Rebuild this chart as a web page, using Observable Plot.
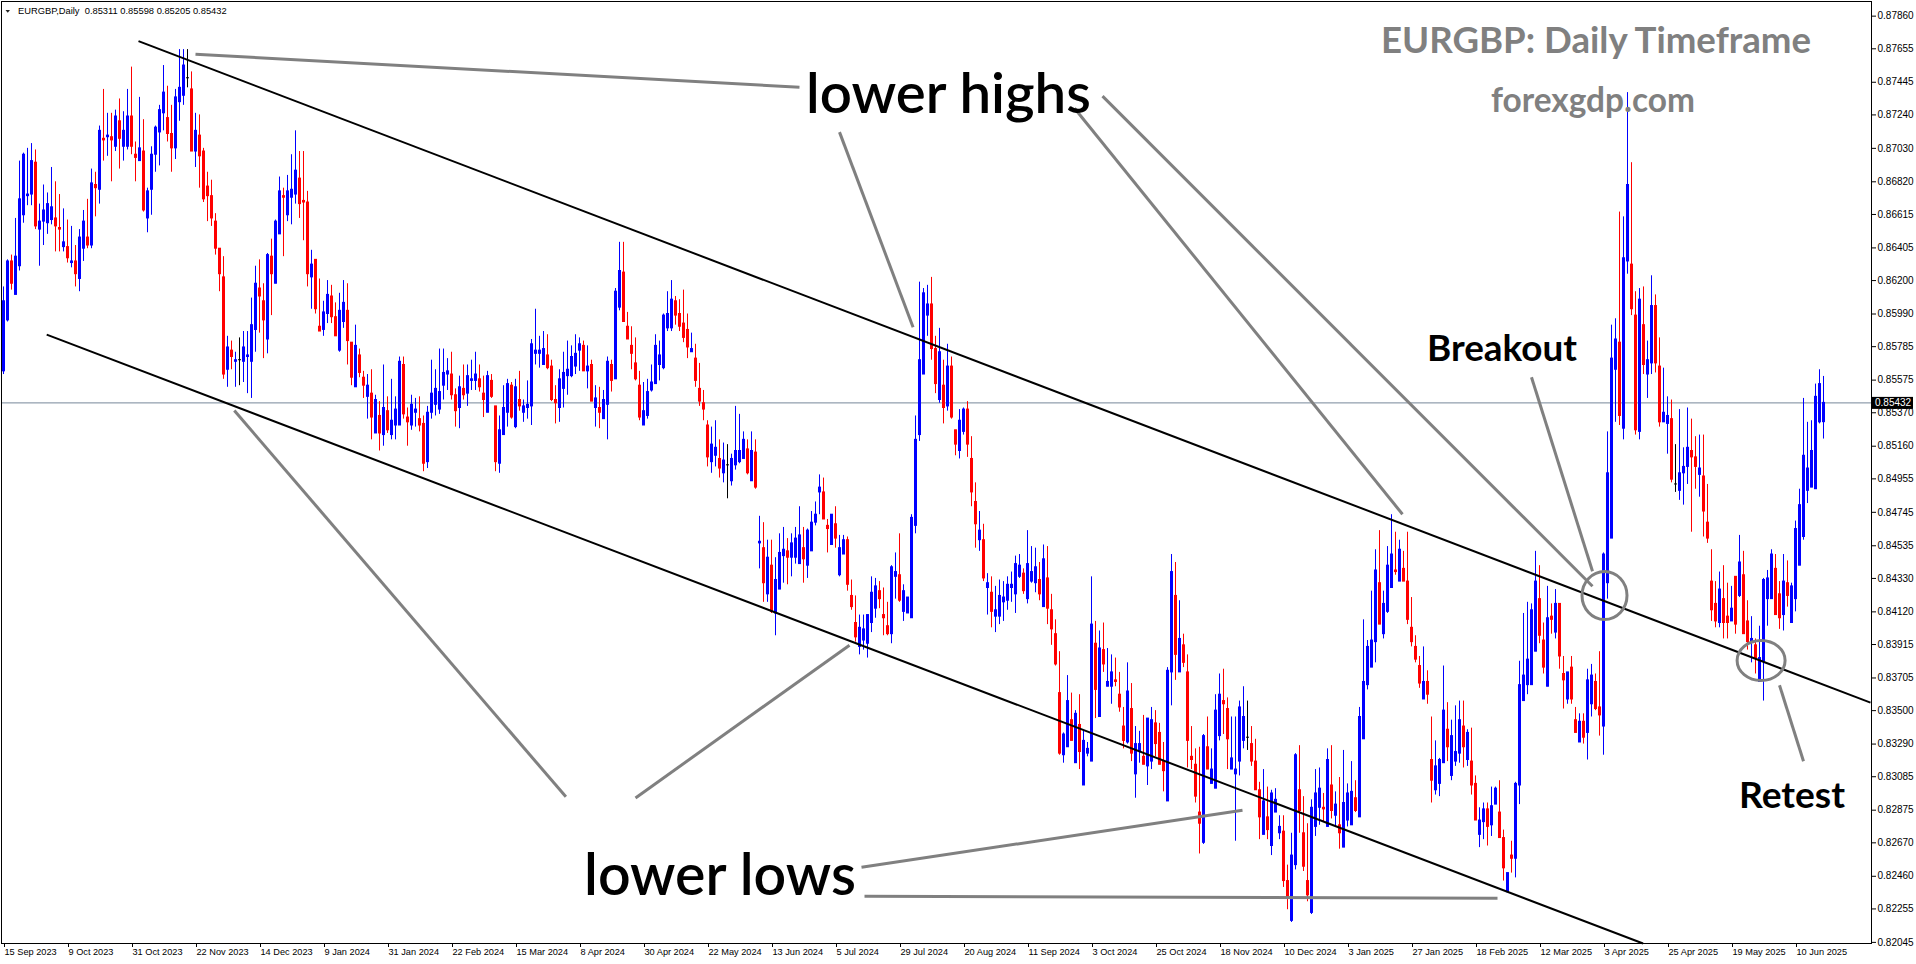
<!DOCTYPE html>
<html>
<head>
<meta charset="utf-8">
<title>EURGBP Daily</title>
<script src="https://cdn.jsdelivr.net/npm/d3@7"></script>
<script src="https://cdn.jsdelivr.net/npm/@observablehq/plot@0.6"></script>
<style>
html, body { margin:0; padding:0; background:#fff; overflow:hidden; }
#chart { width:1916px; height:964px; }
#chart svg { display:block; }
</style>
</head>
<body>
<div id="chart"></div>
<script>
// ---------------- DATA (EURGBP daily) ----------------
const symbol = "EURGBP,Daily";

const openP = [
0.8563,0.8595,0.8632,0.8611,0.8629,0.8661,0.8673,0.8674,0.8694,0.8652,
0.8657,0.8656,0.8658,0.8659,0.8653,0.8641,0.8641,0.8631,0.8632,0.8621,
0.8640,0.8647,0.8642,0.8680,0.8677,0.8709,0.8710,0.8710,0.8704,0.8720,
0.8704,0.8704,0.8723,0.8699,0.8695,0.8701,0.8659,0.8677,0.8699,0.8713,
0.8725,0.8722,0.8712,0.8703,0.8732,0.8736,0.8747,0.8740,0.8701,0.8711,
0.8701,0.8679,0.8673,0.8657,0.8640,0.8622,0.8564,0.8576,0.8569,0.8570,
0.8569,0.8572,0.8569,0.8589,0.8615,0.8607,0.8583,0.8635,0.8618,0.8649,
0.8673,0.8661,0.8672,0.8674,0.8684,0.8670,0.8669,0.8622,0.8633,0.8591,
0.8589,0.8599,0.8610,0.8597,0.8576,0.8594,0.8601,0.8581,0.8553,0.8573,
0.8559,0.8547,0.8549,0.8524,0.8535,0.8523,0.8538,0.8523,0.8529,0.8529,
0.8567,0.8534,0.8529,0.8537,0.8533,0.8530,0.8506,0.8537,0.8542,0.8539,
0.8554,0.8561,0.8561,0.8548,0.8540,0.8552,0.8549,0.8557,0.8557,0.8558,
0.8549,0.8537,0.8557,0.8541,0.8505,0.8523,0.8537,0.8554,0.8528,0.8545,
0.8537,0.8540,0.8541,0.8574,0.8574,0.8567,0.8573,0.8566,0.8545,0.8540,
0.8552,0.8560,0.8560,0.8566,0.8576,0.8579,0.8563,0.8567,0.8540,0.8540,
0.8533,0.8542,0.8567,0.8558,0.8603,0.8625,0.8591,0.8579,0.8568,0.8554,
0.8529,0.8535,0.8551,0.8555,0.8567,0.8565,0.8590,0.8590,0.8607,0.8599,
0.8593,0.8589,0.8575,0.8571,0.8552,0.8543,0.8529,0.8506,0.8510,0.8508,
0.8499,0.8504,0.8494,0.8504,0.8506,0.8508,0.8514,0.8494,0.8512,0.8455,
0.8452,0.8423,0.8441,0.8411,0.8426,0.8447,0.8450,0.8446,0.8446,0.8442,
0.8452,0.8441,0.8450,0.8468,0.8487,0.8487,0.8466,0.8454,0.8467,0.8435,
0.8448,0.8457,0.8422,0.8405,0.8390,0.8394,0.8392,0.8405,0.8414,0.8425,
0.8410,0.8403,0.8398,0.8434,0.8435,0.8412,0.8411,0.8408,0.8466,0.8523,
0.8561,0.8598,0.8605,0.8577,0.8545,0.8554,0.8541,0.8566,0.8526,0.8513,
0.8525,0.8539,0.8508,0.8481,0.8457,0.8457,0.8427,0.8424,0.8409,0.8409,
0.8418,0.8419,0.8427,0.8423,0.8434,0.8436,0.8420,0.8431,0.8430,0.8432,
0.8415,0.8433,0.8413,0.8398,0.8361,0.8322,0.8327,0.8344,0.8317,0.8341,
0.8303,0.8323,0.8318,0.8392,0.8346,0.8388,0.8365,0.8365,0.8369,0.8360,
0.8340,0.8330,0.8351,0.8310,0.8324,0.8321,0.8315,0.8318,0.8342,0.8336,
0.8318,0.8293,0.8374,0.8422,0.8374,0.8391,0.8374,0.8321,0.8316,0.8286,
0.8267,0.8327,0.8304,0.8301,0.8334,0.8356,0.8351,0.8313,0.8310,0.8318,
0.8331,0.8333,0.8329,0.8318,0.8300,0.8272,0.8283,0.8265,0.8286,0.8273,
0.8274,0.8243,0.8218,0.8253,0.8300,0.8273,0.8243,0.8223,0.8277,0.8289,
0.8289,0.8277,0.8303,0.8284,0.8278,0.8264,0.8281,0.8278,0.8295,0.8283,
0.8332,0.8366,0.8377,0.8393,0.8430,0.8398,0.8412,0.8427,0.8438,0.8431,
0.8439,0.8431,0.8402,0.8390,0.8378,0.8357,0.8368,0.8319,0.8300,0.8304,
0.8317,0.8338,0.8309,0.8318,0.8323,0.8340,0.8319,0.8318,0.8304,0.8272,
0.8280,0.8288,0.8278,0.8291,0.8286,0.8270,0.8236,0.8259,0.8257,0.8303,
0.8356,0.8366,0.8366,0.8387,0.8420,0.8394,0.8365,0.8409,0.8399,0.8417,
0.8373,0.8357,0.8377,0.8344,0.8330,0.8343,0.8336,0.8354,0.8368,0.8352,
0.8340,0.8430,0.8458,0.8564,0.8581,0.8527,0.8632,0.8630,0.8598,0.8525,
0.8592,0.8561,0.8568,0.8604,0.8566,0.8531,0.8530,0.8533,0.8492,0.8488,
0.8499,0.8503,0.8513,0.8509,0.8498,0.8497,0.8468,0.8431,0.8417,0.8405,
0.8420,0.8409,0.8406,0.8434,0.8422,0.8435,0.8406,0.8393,0.8391,0.8368,
0.8381,0.8420,0.8420,0.8439,0.8423,0.8410,0.8430,0.8405,0.8420,0.8441,
0.8459,0.8488,0.8490,0.8489,0.8531,0.85311
];

const highP = [
0.8616,0.8633,0.8636,0.8659,0.8695,0.8700,0.8703,0.8706,0.8702,0.8668,
0.8680,0.8675,0.8691,0.8682,0.8674,0.8665,0.8658,0.8654,0.8642,0.8652,
0.8664,0.8671,0.8690,0.8688,0.8717,0.8740,0.8725,0.8725,0.8727,0.8734,
0.8726,0.8740,0.8754,0.8707,0.8735,0.8721,0.8678,0.8704,0.8717,0.8730,
0.8755,0.8742,0.8730,0.8740,0.8765,0.8765,0.8765,0.8751,0.8725,0.8724,
0.8703,0.8688,0.8683,0.8662,0.8640,0.8635,0.8585,0.8582,0.8575,0.8584,
0.8588,0.8588,0.8609,0.8629,0.8633,0.8618,0.8637,0.8646,0.8658,0.8685,
0.8678,0.8686,0.8699,0.8714,0.8701,0.8701,0.8676,0.8639,0.8633,0.8621,
0.8607,0.8620,0.8617,0.8606,0.8612,0.8620,0.8618,0.8581,0.8592,0.8577,
0.8563,0.8561,0.8564,0.8548,0.8544,0.8567,0.8547,0.8558,0.8547,0.8572,
0.8572,0.8540,0.8548,0.8546,0.8547,0.8535,0.8541,0.8570,0.8564,0.8577,
0.8577,0.8571,0.8575,0.8552,0.8560,0.8567,0.8567,0.8570,0.8575,0.8567,
0.8560,0.8563,0.8561,0.8541,0.8535,0.8554,0.8558,0.8556,0.8558,0.8563,
0.8545,0.8557,0.8583,0.8602,0.8585,0.8588,0.8586,0.8570,0.8554,0.8564,
0.8575,0.8582,0.8579,0.8586,0.8584,0.8582,0.8579,0.8570,0.8554,0.8553,
0.8551,0.8572,0.8570,0.8615,0.8644,0.8644,0.8600,0.8591,0.8584,0.8563,
0.8556,0.8558,0.8567,0.8586,0.8582,0.8599,0.8613,0.8620,0.8610,0.8608,
0.8614,0.8599,0.8587,0.8580,0.8568,0.8551,0.8532,0.8528,0.8532,0.8520,
0.8518,0.8517,0.8511,0.8541,0.8536,0.8525,0.8520,0.8525,0.8520,0.8472,
0.8468,0.8457,0.8457,0.8446,0.8461,0.8465,0.8458,0.8461,0.8465,0.8478,
0.8465,0.8464,0.8475,0.8481,0.8498,0.8496,0.8470,0.8473,0.8478,0.8460,
0.8460,0.8459,0.8432,0.8422,0.8410,0.8410,0.8410,0.8434,0.8433,0.8431,
0.8427,0.8418,0.8441,0.8449,0.8461,0.8429,0.8421,0.8473,0.8535,0.8619,
0.8615,0.8617,0.8622,0.8585,0.8590,0.8570,0.8580,0.8572,0.8526,0.8539,
0.8540,0.8544,0.8522,0.8493,0.8475,0.8467,0.8436,0.8434,0.8428,0.8432,
0.8431,0.8434,0.8437,0.8447,0.8448,0.8439,0.8463,0.8453,0.8452,0.8443,
0.8454,0.8453,0.8423,0.8407,0.8387,0.8336,0.8372,0.8361,0.8350,0.8360,
0.8337,0.8330,0.8434,0.8406,0.8400,0.8405,0.8389,0.8385,0.8383,0.8374,
0.8352,0.8380,0.8367,0.8340,0.8337,0.8347,0.8345,0.8352,0.8350,0.8342,
0.8330,0.8377,0.8448,0.8443,0.8419,0.8398,0.8385,0.8340,0.8326,0.8327,
0.8335,0.8346,0.8326,0.8360,0.8373,0.8376,0.8358,0.8346,0.8346,0.8356,
0.8365,0.8356,0.8340,0.8332,0.8305,0.8313,0.8302,0.8300,0.8301,0.8284,
0.8284,0.8253,0.8273,0.8323,0.8328,0.8296,0.8279,0.8294,0.8313,0.8314,
0.8298,0.8326,0.8328,0.8299,0.8308,0.8325,0.8304,0.8318,0.8306,0.8352,
0.8407,0.8394,0.8425,0.8451,0.8463,0.8425,0.8453,0.8473,0.8462,0.8457,
0.8450,0.8462,0.8421,0.8397,0.8384,0.8390,0.8375,0.8346,0.8331,0.8320,
0.8378,0.8355,0.8344,0.8353,0.8356,0.8356,0.8338,0.8339,0.8309,0.8289,
0.8292,0.8292,0.8302,0.8302,0.8306,0.8275,0.8248,0.8268,0.8305,0.8381,
0.8411,0.8418,0.8417,0.8450,0.8441,0.8405,0.8428,0.8417,0.8426,0.8417,
0.8384,0.8374,0.8384,0.8352,0.8348,0.8348,0.8376,0.8379,0.8373,0.8387,
0.8449,0.8525,0.8592,0.8596,0.8663,0.8660,0.8738,0.8694,0.8613,0.8615,
0.8616,0.8582,0.8623,0.8611,0.8584,0.8565,0.8547,0.8545,0.8517,0.8539,
0.8515,0.8540,0.8533,0.8522,0.8523,0.8523,0.8492,0.8451,0.8431,0.8437,
0.8441,0.8430,0.8428,0.8434,0.8460,0.8450,0.8419,0.8409,0.8395,0.8403,
0.8433,0.8438,0.8451,0.8448,0.8431,0.8448,0.8444,0.8430,0.8469,0.8489,
0.8546,0.8531,0.8532,0.8555,0.8564,0.85598
];

const lowP = [
0.8561,0.8594,0.8614,0.8611,0.8626,0.8656,0.8667,0.8667,0.8652,0.8629,
0.8642,0.8649,0.8655,0.8638,0.8638,0.8638,0.8631,0.8628,0.8616,0.8613,
0.8632,0.8640,0.8640,0.8660,0.8668,0.8695,0.8698,0.8682,0.8701,0.8690,
0.8695,0.8702,0.8699,0.8682,0.8695,0.8663,0.8650,0.8661,0.8688,0.8692,
0.8714,0.8707,0.8688,0.8696,0.8720,0.8730,0.8741,0.8701,0.8691,0.8678,
0.8669,0.8657,0.8654,0.8636,0.8613,0.8558,0.8553,0.8564,0.8553,0.8554,
0.8556,0.8549,0.8546,0.8575,0.8587,0.8571,0.8574,0.8598,0.8618,0.8649,
0.8635,0.8657,0.8655,0.8668,0.8659,0.8645,0.8616,0.8602,0.8599,0.8588,
0.8585,0.8593,0.8593,0.8585,0.8575,0.8590,0.8567,0.8554,0.8553,0.8559,
0.8546,0.8533,0.8520,0.8524,0.8513,0.8516,0.8524,0.8520,0.8520,0.8529,
0.8533,0.8516,0.8526,0.8528,0.8525,0.8500,0.8502,0.8533,0.8535,0.8536,
0.8545,0.8551,0.8545,0.8528,0.8527,0.8545,0.8541,0.8551,0.8551,0.8550,
0.8534,0.8537,0.8546,0.8500,0.8499,0.8523,0.8528,0.8533,0.8527,0.8538,
0.8531,0.8533,0.8529,0.8567,0.8565,0.8567,0.8564,0.8544,0.8530,0.8531,
0.8540,0.8548,0.8559,0.8561,0.8563,0.8563,0.8552,0.8544,0.8528,0.8527,
0.8533,0.8520,0.8550,0.8558,0.8601,0.8594,0.8583,0.8564,0.8557,0.8532,
0.8529,0.8533,0.8550,0.8555,0.8557,0.8564,0.8588,0.8588,0.8592,0.8588,
0.8581,0.8571,0.8575,0.8553,0.8541,0.8532,0.8503,0.8499,0.8503,0.8496,
0.8493,0.8483,0.8491,0.8501,0.8505,0.8508,0.8498,0.8494,0.8489,0.8439,
0.8418,0.8418,0.8411,0.8397,0.8426,0.8430,0.8429,0.8434,0.8442,0.8442,
0.8430,0.8433,0.8450,0.8466,0.8473,0.8470,0.8449,0.8454,0.8452,0.8434,
0.8448,0.8425,0.8413,0.8393,0.8385,0.8388,0.8383,0.8399,0.8408,0.8414,
0.8397,0.8397,0.8392,0.8420,0.8418,0.8406,0.8411,0.8408,0.8461,0.8519,
0.8561,0.8585,0.8570,0.8549,0.8543,0.8530,0.8538,0.8533,0.8510,0.8508,
0.8523,0.8509,0.8478,0.8452,0.8450,0.8431,0.8410,0.8402,0.8399,0.8404,
0.8406,0.8413,0.8418,0.8411,0.8433,0.8423,0.8417,0.8430,0.8424,0.8419,
0.8415,0.8404,0.8391,0.8378,0.8322,0.8317,0.8327,0.8331,0.8317,0.8313,
0.8303,0.8321,0.8318,0.8345,0.8346,0.8374,0.8365,0.8354,0.8365,0.8349,
0.8326,0.8329,0.8318,0.8295,0.8317,0.8316,0.8303,0.8313,0.8321,0.8316,
0.8299,0.8293,0.8353,0.8369,0.8374,0.8377,0.8314,0.8313,0.8292,0.8260,
0.8266,0.8313,0.8304,0.8301,0.8331,0.8335,0.8313,0.8313,0.8268,0.8309,
0.8326,0.8325,0.8315,0.8300,0.8269,0.8272,0.8269,0.8259,0.8286,0.8269,
0.8239,0.8225,0.8217,0.8250,0.8273,0.8249,0.8230,0.8222,0.8271,0.8278,
0.8280,0.8277,0.8282,0.8277,0.8263,0.8264,0.8277,0.8278,0.8286,0.8283,
0.8332,0.8363,0.8377,0.8380,0.8404,0.8395,0.8411,0.8427,0.8435,0.8431,
0.8431,0.8404,0.8390,0.8380,0.8364,0.8357,0.8354,0.8292,0.8297,0.8296,
0.8317,0.8318,0.8306,0.8315,0.8317,0.8314,0.8315,0.8297,0.8281,0.8264,
0.8269,0.8265,0.8271,0.8291,0.8270,0.8243,0.8236,0.8248,0.8245,0.8291,
0.8356,0.8360,0.8366,0.8387,0.8392,0.8373,0.8365,0.8398,0.8395,0.8376,
0.8351,0.8354,0.8354,0.8336,0.8330,0.8329,0.8319,0.8346,0.8350,0.8334,
0.8322,0.8420,0.8458,0.8531,0.8529,0.8520,0.8624,0.8598,0.8523,0.8520,
0.8561,0.8546,0.8561,0.8562,0.8528,0.8531,0.8511,0.8493,0.8487,0.8482,
0.8479,0.8492,0.8462,0.8489,0.8484,0.8459,0.8455,0.8406,0.8402,0.8402,
0.8395,0.8395,0.8406,0.8398,0.8421,0.8398,0.8388,0.8380,0.8373,0.8368,
0.8356,0.8403,0.8420,0.8410,0.8401,0.8400,0.8415,0.8405,0.8412,0.8441,
0.8457,0.8480,0.8490,0.8489,0.8530,0.85205
];

const closeP = [
0.8607,0.8632,0.8618,0.8635,0.8671,0.8699,0.8674,0.8695,0.8654,0.8657,
0.8664,0.8668,0.8666,0.8654,0.8652,0.8644,0.8634,0.8632,0.8624,0.8647,
0.8657,0.8642,0.8681,0.8678,0.8714,0.8708,0.8711,0.8708,0.8723,0.8709,
0.8714,0.8723,0.8704,0.8697,0.8703,0.8664,0.8676,0.8699,0.8716,0.8727,
0.8738,0.8712,0.8703,0.8735,0.8741,0.8755,0.8747,0.8701,0.8714,0.8698,
0.8671,0.8673,0.8659,0.8640,0.8624,0.8561,0.8578,0.8572,0.8570,0.8570,
0.8578,0.8573,0.8592,0.8618,0.8610,0.8595,0.8636,0.8624,0.8657,0.8676,
0.8672,0.8676,0.8677,0.8689,0.8668,0.8669,0.8624,0.8630,0.8602,0.8588,
0.8600,0.8611,0.8597,0.8585,0.8601,0.8606,0.8582,0.8559,0.8579,0.8562,
0.8554,0.8554,0.8534,0.8545,0.8524,0.8540,0.8526,0.8532,0.8539,0.8569,
0.8536,0.8531,0.8542,0.8539,0.8529,0.8505,0.8537,0.8549,0.8552,0.8550,
0.8562,0.8563,0.8548,0.8538,0.8553,0.8548,0.8560,0.8558,0.8561,0.8553,
0.8545,0.8560,0.8547,0.8506,0.8526,0.8540,0.8555,0.8534,0.8553,0.8541,
0.8541,0.8542,0.8580,0.8576,0.8576,0.8577,0.8565,0.8545,0.8543,0.8558,
0.8562,0.8564,0.8572,0.8574,0.8580,0.8563,0.8566,0.8544,0.8546,0.8537,
0.8545,0.8569,0.8557,0.8613,0.8626,0.8594,0.8583,0.8574,0.8558,0.8534,
0.8538,0.8550,0.8556,0.8579,0.8573,0.8598,0.8599,0.8608,0.8598,0.8591,
0.8584,0.8578,0.8577,0.8557,0.8544,0.8539,0.8509,0.8517,0.8515,0.8502,
0.8507,0.8504,0.8508,0.8513,0.8513,0.8520,0.8499,0.8513,0.8490,0.8456,
0.8430,0.8446,0.8412,0.8432,0.8449,0.8451,0.8446,0.8455,0.8458,0.8460,
0.8445,0.8463,0.8468,0.8473,0.8490,0.8470,0.8464,0.8473,0.8458,0.8452,
0.8457,0.8429,0.8415,0.8396,0.8402,0.8401,0.8410,0.8424,0.8428,0.8420,
0.8408,0.8398,0.8440,0.8437,0.8419,0.8425,0.8421,0.8471,0.8520,0.8570,
0.8612,0.8605,0.8577,0.8555,0.8575,0.8540,0.8566,0.8534,0.8517,0.8532,
0.8539,0.8517,0.8487,0.8467,0.8463,0.8433,0.8430,0.8412,0.8413,0.8422,
0.8421,0.8429,0.8429,0.8442,0.8441,0.8425,0.8442,0.8437,0.8440,0.8423,
0.8445,0.8414,0.8401,0.8379,0.8323,0.8335,0.8356,0.8331,0.8348,0.8324,
0.8331,0.8326,0.8404,0.8363,0.8389,0.8379,0.8368,0.8374,0.8368,0.8352,
0.8331,0.8362,0.8323,0.8329,0.8329,0.8316,0.8345,0.8344,0.8329,0.8316,
0.8312,0.8375,0.8437,0.8385,0.8395,0.8380,0.8331,0.8319,0.8296,0.8279,
0.8334,0.8313,0.8313,0.8350,0.8360,0.8354,0.8332,0.8320,0.8313,0.8352,
0.8346,0.8333,0.8318,0.8300,0.8283,0.8293,0.8275,0.8298,0.8294,0.8277,
0.8243,0.8232,0.8259,0.8322,0.8287,0.8252,0.8234,0.8289,0.8298,0.8301,
0.8288,0.8319,0.8287,0.8291,0.8273,0.8292,0.8298,0.8299,0.8287,0.8346,
0.8368,0.8390,0.8394,0.8438,0.8404,0.8417,0.8441,0.8448,0.8437,0.8451,
0.8431,0.8407,0.8393,0.8382,0.8367,0.8368,0.8360,0.8306,0.8315,0.8319,
0.8350,0.8327,0.8334,0.8324,0.8344,0.8327,0.8336,0.8303,0.8281,0.8281,
0.8288,0.8277,0.8290,0.8301,0.8270,0.8251,0.8248,0.8257,0.8304,0.8366,
0.8372,0.8382,0.8413,0.8431,0.8397,0.8377,0.8408,0.8407,0.8417,0.8384,
0.8369,0.8374,0.8357,0.8336,0.8343,0.8333,0.8369,0.8372,0.8351,0.8347,
0.8448,0.8499,0.8571,0.8583,0.8535,0.8634,0.8680,0.8602,0.8526,0.8608,
0.8567,0.8570,0.8604,0.8568,0.8531,0.8537,0.8535,0.8495,0.8492,0.8499,
0.8503,0.8515,0.8509,0.8503,0.8502,0.8475,0.8458,0.8413,0.8406,0.8426,
0.8405,0.8405,0.8414,0.8404,0.8443,0.8398,0.8393,0.8395,0.8383,0.8383,
0.8432,0.8433,0.8448,0.8410,0.8408,0.8431,0.8422,0.8428,0.8464,0.8479,
0.8510,0.8502,0.8513,0.8547,0.8555,0.85432
];

// right price axis tick labels
const priceTicks = [0.87860,0.87655,0.87445,0.87240,0.87030,0.86820,0.86615,0.86405,0.86200,0.85990,
  0.85785,0.85575,0.85370,0.85160,0.84955,0.84745,0.84535,0.84330,0.84120,0.83915,
  0.83705,0.83500,0.83290,0.83085,0.82875,0.82670,0.82460,0.82255,0.82045];

// bottom date labels (one every 16 daily bars, starting at bar 0)
const dateLabels = ["15 Sep 2023","9 Oct 2023","31 Oct 2023","22 Nov 2023","14 Dec 2023","9 Jan 2024",
  "31 Jan 2024","22 Feb 2024","15 Mar 2024","8 Apr 2024","30 Apr 2024","22 May 2024","13 Jun 2024",
  "5 Jul 2024","29 Jul 2024","20 Aug 2024","11 Sep 2024","3 Oct 2024","25 Oct 2024","18 Nov 2024",
  "10 Dec 2024","3 Jan 2025","27 Jan 2025","18 Feb 2025","12 Mar 2025","3 Apr 2025","25 Apr 2025",
  "19 May 2025","10 Jun 2025"];
const dateLabelBars = dateLabels.map((_, k) => k * 16);

// channel trend lines (bar index, price)
const channelLines = [
  {x1: 33.75, y1: 0.87703, x2: 466.75, y2: 0.83550},
  {x1: 10.8,  y1: 0.85861, x2: 409.9,  y2: 0.82038}
];
// grey pointer lines (bar index, price)
const pointerLines = [
  {x1: 48.0,   y1: 0.87621, x2: 199.0,  y2: 0.87414},
  {x1: 209.0,  y1: 0.87132, x2: 227.4,  y2: 0.85907},
  {x1: 267.75, y1: 0.87282, x2: 349.75, y2: 0.84733},
  {x1: 274.75, y1: 0.87358, x2: 397.25, y2: 0.84281},
  {x1: 382.0,  y1: 0.85593, x2: 397.25, y2: 0.84375},
  {x1: 444.0,  y1: 0.83659, x2: 450.0,  y2: 0.83182},
  {x1: 140.6,  y1: 0.82959, x2: 57.7,   y2: 0.85384},
  {x1: 158.0,  y1: 0.82952, x2: 211.5,  y2: 0.83911},
  {x1: 214.5,  y1: 0.82517, x2: 309.75, y2: 0.82874},
  {x1: 215.25, y1: 0.82334, x2: 373.5,  y2: 0.82322}
];
// grey rings: breakout and retest (bar index, price)
const rings = [
  {name: "breakout", bar: 400.25, price: 0.84223},
  {name: "retest",   bar: 439.4,  price: 0.83815}
];

// ---------------- CHART ----------------
const W = 1916, H = 964;
const bars = openP.map((o, i) => ({i, o, h: highP[i], l: lowP[i], c: closeP[i]}));
const last = bars[bars.length - 1];
const BULL = "#0000ff", BEAR = "#ff0000", DOJI = "#000000";
const candleColor = d => d.c > d.o ? BULL : d.c < d.o ? BEAR : DOJI;
const fmt5 = d => d.toFixed(5);
const labelByBar = new Map(dateLabelBars.map((b, k) => [b, dateLabels[k]]));

const marks = [
  Plot.ruleY([last.c], {stroke: "#778899", strokeWidth: 1}),
  Plot.ruleX(bars, {x: "i", y1: "h", y2: "l", stroke: candleColor, strokeWidth: 1}),
  Plot.ruleX(bars, {x: "i", y1: d => Math.max(d.o, d.c), y2: d => Math.min(d.o, d.c),
    stroke: candleColor, strokeWidth: 3, insetTop: -0.5, insetBottom: -0.5}),
  Plot.link(channelLines, {x1: "x1", y1: "y1", x2: "x2", y2: "y2", stroke: "#000", strokeWidth: 2}),
  Plot.link(pointerLines, {x1: "x1", y1: "y1", x2: "x2", y2: "y2", stroke: "#808080", strokeWidth: 3}),
  Plot.frame({stroke: "#000"})
];
const hasAxisMarks = typeof Plot.axisX === "function";
if (hasAxisMarks) {
  marks.push(
    Plot.axisY(priceTicks, {anchor: "right", tickSize: 4, tickPadding: 2, tickFormat: fmt5, fontSize: 10}),
    Plot.axisX(dateLabelBars, {anchor: "bottom", tickSize: 4, tickPadding: 1, textAnchor: "start", dx: 1,
      tickFormat: d => labelByBar.get(d), fontSize: 9.2})
  );
}

const chart = Plot.plot({
  width: W, height: H,
  marginLeft: 1, marginRight: 45, marginTop: 1, marginBottom: 21,
  style: {background: "#ffffff", color: "#000", fontFamily: "'Liberation Sans', Arial, sans-serif", fontSize: "10px"},
  color: {type: "identity"},
  x: hasAxisMarks ? {type: "linear", domain: [-0.5, 467]} :
     {type: "linear", domain: [-0.5, 467], ticks: dateLabelBars, tickFormat: d => labelByBar.get(d), tickSize: 4, label: null},
  y: hasAxisMarks ? {type: "linear", domain: [0.82038, 0.87952]} :
     {type: "linear", domain: [0.82038, 0.87952], axis: "right", ticks: priceTicks, tickFormat: fmt5, tickSize: 4, label: null},
  marks
});
document.getElementById("chart").appendChild(chart);

const svg = d3.select(chart);
const xs = chart.scale("x"), ys = chart.scale("y");

// rings
const ringSize = {breakout: [22.5, 24], retest: [24, 20]};
svg.append("g").selectAll("ellipse").data(rings).join("ellipse")
  .attr("cx", d => xs.apply(d.bar) + 0.5).attr("cy", d => ys.apply(d.price) + 0.5)
  .attr("rx", d => ringSize[d.name][0]).attr("ry", d => ringSize[d.name][1])
  .attr("fill", "none").attr("stroke", "#808080").attr("stroke-width", 3);

// current price tag on the axis
const yTag = ys.apply(last.c) + 0.5;
svg.append("rect").attr("x", 1871).attr("y", yTag - 6).attr("width", 42).attr("height", 12).attr("fill", "#000");
svg.append("text").attr("x", 1875).attr("y", yTag).attr("dy", "0.35em").attr("text-anchor", "start")
  .attr("font-family", "'Liberation Sans', Arial, sans-serif").attr("font-size", 10)
  .attr("fill", "#fff").text(fmt5(last.c));

// header
svg.append("path").attr("d", "M5.5,10 L10,10 L7.75,12.7 Z").attr("fill", "#222");
function placeText(t) {
  const el = svg.append("text").attr("x", t.x).attr("y", t.y).attr("text-anchor", "start")
    .attr("font-family", t.font).attr("font-weight", t.weight)
    .attr("font-size", t.size).attr("fill", t.fill).text(t.text);
  const len = el.node().getComputedTextLength();
  if (t.w && len > 0) el.attr("font-size", t.size * t.w / len);
  return el;
}
const LATO = "Lato, 'Open Sans', sans-serif";
placeText({text: `${symbol}  ${fmt5(last.o)} ${fmt5(last.h)} ${fmt5(last.l)} ${fmt5(last.c)}`,
  x: 18, y: 13.5, w: 209, size: 10, weight: "normal", fill: "#000", font: "'Liberation Sans', Arial, sans-serif"});
placeText({text: "EURGBP: Daily Timeframe", x: 1381, y: 52.5, w: 430, size: 36, weight: "bold", fill: "#808080", font: LATO});
placeText({text: "forexgdp.com", x: 1491, y: 112, w: 204, size: 32, weight: "bold", fill: "#808080", font: LATO});
placeText({text: "lower highs", x: 806, y: 112.5, w: 285, size: 56, weight: 600, fill: "#000", font: LATO});
placeText({text: "lower lows", x: 584, y: 895, w: 272, size: 56, weight: 600, fill: "#000", font: LATO});
placeText({text: "Breakout", x: 1427, y: 361, w: 150, size: 38, weight: "bold", fill: "#000", font: LATO});
placeText({text: "Retest", x: 1739, y: 808, w: 106, size: 38, weight: "bold", fill: "#000", font: LATO});

console.log("bars", openP.length, highP.length, lowP.length, closeP.length);
</script>
</body>
</html>
